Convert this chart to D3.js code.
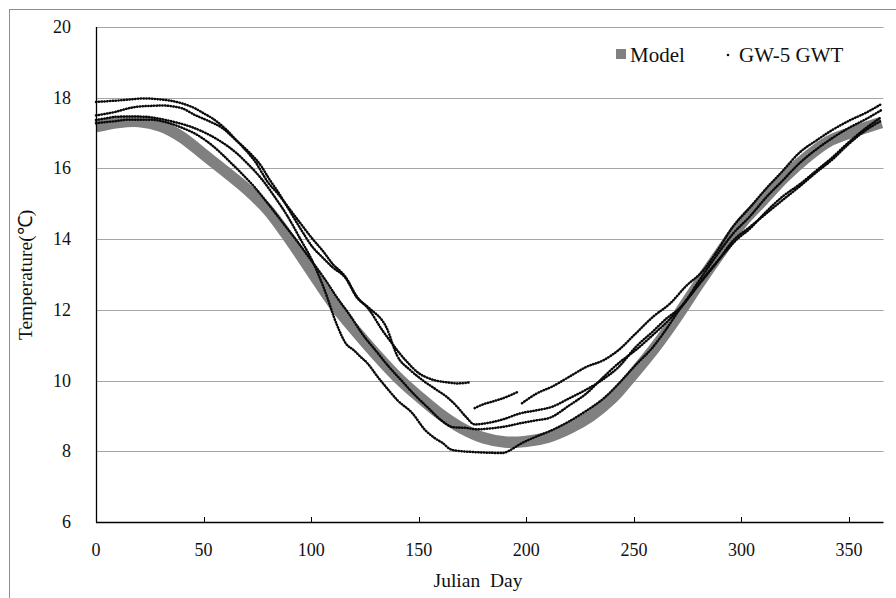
<!DOCTYPE html>
<html>
<head>
<meta charset="utf-8">
<script src="https://cdn.jsdelivr.net/npm/d3@7"></script>
<style>
  body { margin: 0; background: #fff; }
  svg { display: block; }
  text { font-family: "Liberation Serif", "Times New Roman", serif; fill: #111; }
</style>
</head>
<body>
<svg id="chart" width="896" height="598"></svg>
<script>
// model curve (grey band)
var modelDays = [0, 10, 20, 30, 40, 50, 60, 70, 80, 90, 100, 110, 120, 130, 140, 150, 160, 170, 180, 190,
  200, 210, 220, 230, 240, 250, 260, 270, 280, 290, 300, 310, 320, 330, 340, 350, 360, 365];
var modelTemp = [17.18, 17.3, 17.33, 17.2, 16.88, 16.4, 15.92, 15.42, 14.82, 14.0, 13.1, 12.2, 11.45, 10.75,
  10.1, 9.55, 9.05, 8.65, 8.38, 8.26, 8.28, 8.4, 8.65, 9.0, 9.5, 10.2, 10.95, 11.8, 12.72, 13.6, 14.45,
  15.1, 15.75, 16.3, 16.75, 17.0, 17.2, 17.3];

// GW-5 observed traces, [day, temp], null = gap
var gwA = [[0,17.88],[5,17.9],[10,17.92],[16,17.95],[22,17.98],[30,17.95],[36,17.9],[42,17.8],[46,17.7],
  [50,17.56],[54,17.42],[60,17.13],[64,16.88],[68,16.62],[74,16.19],[80,15.6],[85,15.25],[90,14.85],
  [95,14.45],[101,13.98],[105,13.7],[110,13.3],[116,12.93],[121,12.4],[127,12.0],[133,11.43],[137,11.1],
  [141,10.78],[145,10.5],[150,10.21],[154,10.08],[158,10.0],[163,9.95],[168,9.92],[174,9.95],
  null,
  [176,9.22],[180,9.33],[185,9.42],[190,9.52],[196,9.68],
  null,
  [198,9.36],[205,9.64],[212,9.83],[220,10.11],[228,10.39],[236,10.58],[243,10.87],[251,11.34],
  [259,11.81],[267,12.19],[274,12.66],[282,13.1],[288,13.6],[296,14.35],[304,14.9],[311,15.4],
  [319,15.92],[327,16.45],[335,16.8],[342,17.08],[350,17.35],[358,17.58],[365,17.82]];

var gwB = [[0,17.5],[5,17.55],[9,17.6],[15,17.7],[20,17.75],[26,17.77],[31,17.78],[36,17.75],[40,17.7],
  [46,17.51],[52,17.35],[59,17.13],[65,16.8],[71,16.47],[77,16.05],[80,15.75],[85,15.3],[90,14.8],
  [95,14.3],[101,13.75],[105,13.5],[110,13.2],[116,12.9],[121,12.37],[127,12.05],[135,11.5],[140,10.7],
  [146,10.3],[152,10.0],[158,9.75],[163,9.54],[168,9.25],[172,8.97],[176,8.76],[182,8.8],[190,8.92],
  [197,9.07],[204,9.15],[212,9.26],[220,9.5],[228,9.75],[236,10.05],[243,10.39],[251,10.96],[259,11.4],
  [265,11.75],[272,12.09],[280,12.8],[288,13.5],[296,14.15],[304,14.65],[311,15.15],[319,15.65],
  [327,16.15],[335,16.55],[342,16.85],[350,17.15],[358,17.4],[365,17.65]];

var gwC = [[0,17.37],[5,17.42],[9,17.46],[16,17.47],[23,17.46],[30,17.4],[36,17.32],[44,17.18],[51,17.0],
  [57,16.8],[65,16.45],[71,16.1],[77,15.7],[83,15.2],[89,14.65],[95,14.0],[100,13.45],[106,12.6],
  [112,11.57],[116,11.06],[120,10.85],[123,10.67],[126,10.5],[131,10.1],[136,9.73],[140,9.45],[147,9.08],
  [153,8.6],[158,8.35],[161,8.24],[165,8.05],[170,8.0],[175,7.98],[182,7.96],[189,7.95],[193,8.05],
  [197,8.2],[204,8.4],[212,8.6],[220,8.85],[228,9.15],[236,9.5],[243,9.92],[251,10.45],[259,10.96],
  [265,11.45],[271,11.99],[278,12.55],[285,13.1],[292,13.6],[298,14.0],[304,14.3],[311,14.75],
  [319,15.2],[327,15.55],[335,15.95],[342,16.3],[350,16.75],[358,17.15],[365,17.45]];

var gwD = [[0,17.28],[8,17.33],[16,17.38],[25,17.38],[33,17.3],[40,17.15],[47,16.95],[55,16.6],[62,16.2],
  [67,15.9],[74,15.45],[80,15.0],[87,14.45],[94,13.9],[100,13.4],[106,12.9],[112,12.35],[118,11.85],
  [124,11.3],[130,10.85],[136,10.4],[142,10.0],[148,9.6],[154,9.25],[160,8.9],[166,8.68],[172,8.66],
  [177,8.62],[184,8.65],[190,8.7],[197,8.79],[204,8.87],[211,8.95],[220,9.3],[228,9.64],[236,10.11],
  [243,10.5],[251,10.87],[259,11.3],[266,11.7],[272,12.09],[280,12.7],[288,13.3],[296,13.95],[304,14.35],
  [311,14.7],[319,15.1],[327,15.49],[335,15.9],[342,16.24],[350,16.7],[358,17.09],[365,17.35]];

var xTicks = [0, 50, 100, 150, 200, 250, 300, 350];
var yTicks = [6, 8, 10, 12, 14, 16, 18, 20];

var svg = d3.select('#chart');
var plot = { l: 96, r: 883.5, t: 27, b: 522 };

var x = d3.scaleLinear().domain([0, 366]).range([plot.l, plot.r]);
var y = d3.scaleLinear().domain([6, 20]).range([plot.b, plot.t]);

// outer frame
svg.append('rect')
  .attr('x', 9.5).attr('y', 9.5)
  .attr('width', 900).attr('height', 600)
  .attr('fill', 'none')
  .attr('stroke', '#8c8c8c')
  .attr('stroke-width', 1);

// gridlines
svg.append('g')
  .selectAll('line')
  .data(yTicks.filter(t => t > 6))
  .enter().append('line')
  .attr('x1', plot.l).attr('x2', plot.r)
  .attr('y1', d => Math.round(y(d)) + 0.5)
  .attr('y2', d => Math.round(y(d)) + 0.5)
  .attr('stroke', '#a6a6a6')
  .attr('stroke-width', 1.2);

var lineGen = d3.line()
  .defined(d => d !== null)
  .x(d => x(d[0]))
  .y(d => y(d[1]))
  .curve(d3.curveMonotoneX);

// model band
var modelPts = modelDays.map((d, i) => [d, modelTemp[i]]);
svg.append('path')
  .datum(modelPts)
  .attr('d', lineGen.curve(d3.curveCatmullRom))
  .attr('fill', 'none')
  .attr('stroke', '#808080')
  .attr('stroke-width', 11.5);
lineGen.curve(d3.curveMonotoneX);

// observed dotted traces
svg.append('g')
  .selectAll('path')
  .data([gwA, gwB, gwC, gwD])
  .enter().append('path')
  .attr('d', lineGen)
  .attr('fill', 'none')
  .attr('stroke', '#0a0a0a')
  .attr('stroke-width', 2.5)
  .attr('stroke-linecap', 'round')
  .attr('stroke-dasharray', '0.4 2.4');

// axes lines
svg.append('line')
  .attr('x1', plot.l + 0.5).attr('x2', plot.l + 0.5)
  .attr('y1', plot.t).attr('y2', plot.b + 0.5)
  .attr('stroke', '#000').attr('stroke-width', 1.3);
svg.append('line')
  .attr('x1', plot.l).attr('x2', plot.r)
  .attr('y1', plot.b + 0.5).attr('y2', plot.b + 0.5)
  .attr('stroke', '#000').attr('stroke-width', 1.3);

// x ticks (inward)
svg.append('g')
  .selectAll('line')
  .data(xTicks.filter(t => t > 0))
  .enter().append('line')
  .attr('x1', d => Math.round(x(d)) + 0.5).attr('x2', d => Math.round(x(d)) + 0.5)
  .attr('y1', plot.b - 5).attr('y2', plot.b)
  .attr('stroke', '#000');

svg.append('g')
  .selectAll('text')
  .data(xTicks)
  .enter().append('text')
  .attr('x', d => x(d))
  .attr('y', 556)
  .attr('text-anchor', 'middle')
  .style('font-size', '18px')
  .text(d => d);

svg.append('g')
  .selectAll('text')
  .data(yTicks)
  .enter().append('text')
  .attr('x', 71)
  .attr('y', d => y(d) + 6)
  .attr('text-anchor', 'end')
  .style('font-size', '18px')
  .text(d => d);

// axis titles
svg.append('text')
  .attr('x', 478).attr('y', 587)
  .attr('text-anchor', 'middle')
  .style('font-size', '19.5px')
  .style('white-space', 'pre')
  .text('Julian  Day');

svg.append('text')
  .attr('transform', 'translate(32,275) rotate(-90)')
  .attr('text-anchor', 'middle')
  .style('font-size', '19.5px')
  .text('Temperature(℃)');

// legend
svg.append('rect')
  .attr('x', 616).attr('y', 49)
  .attr('width', 10).attr('height', 10)
  .attr('fill', '#808080');
svg.append('text')
  .attr('x', 630).attr('y', 62)
  .style('font-size', '21px')
  .text('Model');
svg.append('circle')
  .attr('cx', 728).attr('cy', 55)
  .attr('r', 1.3)
  .attr('fill', '#111');
svg.append('text')
  .attr('x', 739).attr('y', 62)
  .style('font-size', '21px')
  .text('GW-5 GWT');
</script>
</body>
</html>
